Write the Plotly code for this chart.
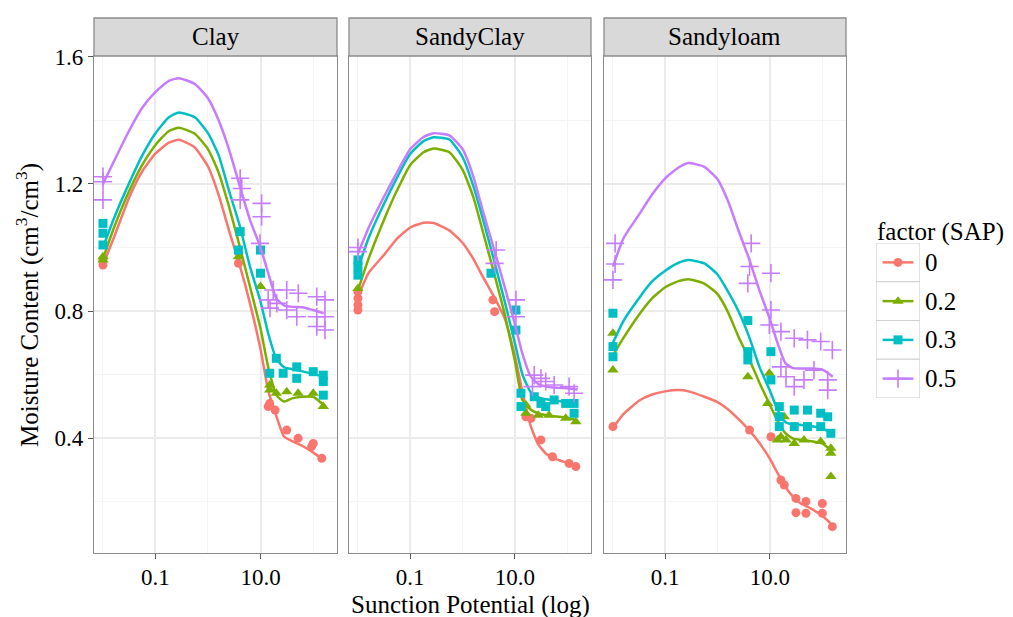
import plotly.graph_objects as go

panels = ["Clay", "SandyClay", "Sandyloam"]
levels = ["0", "0.2", "0.3", "0.5"]
colors = ["#F8766D", "#7CAE00", "#00BFC4", "#C77CFF"]
symbols = ["circle", "triangle-up", "square", "cross-thin"]

# fitted curves: suction values and moisture content
curve_x = [0.01, 0.016, 0.032, 0.056, 0.1, 0.18, 0.28, 0.56, 1.0, 1.6, 2.5, 4.0, 6.3,
           10, 14, 20, 28, 40, 63, 100, 160]

clay_fit_0 = [0.945, 1.03, 1.16, 1.24, 1.296, 1.33, 1.339, 1.315, 1.255, 1.165, 1.055, 0.945, 0.824,
              0.68, 0.55, 0.47, 0.405, 0.39, 0.375, 0.355, 0.331]
clay_fit_02 = [0.965, 1.06, 1.18, 1.26, 1.323, 1.367, 1.377, 1.358, 1.31, 1.235, 1.13, 1.005, 0.877,
               0.745, 0.624, 0.535, 0.515, 0.525, 0.53, 0.53, 0.504]
clay_fit_03 = [1.0, 1.09, 1.205, 1.29, 1.36, 1.41, 1.425, 1.41, 1.36, 1.29, 1.18, 1.07, 0.94,
               0.83, 0.73, 0.65, 0.623, 0.617, 0.61, 0.602, 0.593]
clay_fit_05 = [1.20, 1.27, 1.37, 1.44, 1.49, 1.525, 1.533, 1.515, 1.47, 1.40, 1.31, 1.195, 1.087,
               1.0, 0.92, 0.84, 0.818, 0.813, 0.812, 0.803, 0.793]

sc_fit_0 = [0.845, 0.92, 0.978, 1.028, 1.063, 1.078, 1.077, 1.054, 1.015, 0.965, 0.905, 0.845, 0.78,
            0.66, 0.545, 0.44, 0.38, 0.35, 0.333, 0.322, 0.31]
sc_fit_02 = [0.865, 0.965, 1.09, 1.18, 1.26, 1.30, 1.312, 1.30, 1.245, 1.16, 1.045, 0.92, 0.795,
             0.645, 0.52, 0.49, 0.478, 0.472, 0.468, 0.464, 0.455]
sc_fit_03 = [0.935, 1.03, 1.14, 1.22, 1.295, 1.335, 1.347, 1.34, 1.285, 1.195, 1.085, 0.96, 0.835,
             0.70, 0.60, 0.545, 0.528, 0.522, 0.517, 0.513, 0.505]
sc_fit_05 = [0.98, 1.062, 1.162, 1.237, 1.31, 1.348, 1.36, 1.353, 1.31, 1.225, 1.11, 0.995, 0.88,
             0.76, 0.665, 0.595, 0.57, 0.562, 0.558, 0.557, 0.553]

sl_fit_0 = [0.432, 0.476, 0.518, 0.537, 0.547, 0.551, 0.547, 0.53, 0.513, 0.49, 0.46, 0.425, 0.385,
            0.335, 0.29, 0.245, 0.215, 0.193, 0.177, 0.155, 0.125]
sl_fit_02 = [0.66, 0.716, 0.79, 0.84, 0.875, 0.894, 0.9, 0.886, 0.853, 0.795, 0.72, 0.65, 0.575,
             0.505, 0.455, 0.415, 0.398, 0.394, 0.39, 0.383, 0.357]
sl_fit_03 = [0.70, 0.77, 0.842, 0.893, 0.927, 0.952, 0.961, 0.95, 0.915, 0.86, 0.80, 0.72, 0.625,
             0.55, 0.49, 0.45, 0.443, 0.441, 0.437, 0.43, 0.415]
sl_fit_05 = [0.94, 1.03, 1.105, 1.167, 1.218, 1.252, 1.266, 1.254, 1.215, 1.145, 1.055, 0.965, 0.866,
             0.775, 0.70, 0.635, 0.62, 0.619, 0.619, 0.616, 0.593]

# observed points
clay_obs_0_x = [0.01, 0.01, 3.8, 14, 15, 19, 31.6, 52, 94, 101, 147]
clay_obs_0_y = [0.961, 0.945, 0.95, 0.499, 0.509, 0.488, 0.425, 0.399, 0.373, 0.383, 0.336]
clay_obs_02_x = [0.01, 0.01, 3.8, 10, 15, 15, 20, 31.6, 52, 101, 157]
clay_obs_02_y = [0.971, 0.961, 0.971, 0.877, 0.567, 0.551, 0.541, 0.546, 0.541, 0.541, 0.499]
clay_obs_03_x = [0.01, 0.01, 0.01, 4.1, 3.8, 10, 10, 20, 15, 27, 49, 49, 101, 157, 157, 157]
clay_obs_03_y = [1.076, 1.045, 1.008, 1.05, 0.992, 0.992, 0.919, 0.651, 0.604, 0.604, 0.624, 0.588,
                 0.609, 0.598, 0.578, 0.535]
clay_obs_05_x = [0.01, 0.01, 0.01, 4.1, 4.4, 4.1, 10.5, 10.5, 9.8, 17.5, 31.6, 52.5, 118, 169, 14,
                 20.4, 15.2, 31.6, 49, 118, 169, 118, 169]
clay_obs_05_y = [1.223, 1.207, 1.15, 1.218, 1.186, 1.15, 1.139, 1.097, 1.013, 0.866, 0.866, 0.856,
                 0.845, 0.835, 0.835, 0.824, 0.809, 0.803, 0.782, 0.782, 0.782, 0.751, 0.74]

sc_obs_0_x = [0.01, 0.01, 0.01, 0.01, 3.8, 4.1, 16.3, 20.4, 31.6, 52.5, 109, 147]
sc_obs_0_y = [0.861, 0.84, 0.819, 0.803, 0.835, 0.798, 0.467, 0.462, 0.394, 0.341, 0.32, 0.31]
sc_obs_02_x = [0.01, 10, 16.3, 16.3, 28, 45, 94, 147]
sc_obs_02_y = [0.871, 0.803, 0.478, 0.504, 0.472, 0.472, 0.462, 0.451]
sc_obs_03_x = [0.01, 0.01, 0.01, 3.5, 10.5, 10.5, 13.1, 13.1, 23.5, 31.6, 39, 56.5, 94, 136, 136]
sc_obs_03_y = [0.961, 0.94, 0.913, 0.919, 0.803, 0.74, 0.541, 0.499, 0.53, 0.509, 0.499, 0.52,
               0.509, 0.509, 0.478]
sc_obs_05_x = [0.01, 0.01, 4.4, 4.1, 10.5, 10.5, 21.8, 23.5, 31.6, 39, 56.5, 109, 136]
sc_obs_05_y = [1.0, 0.987, 0.992, 0.95, 0.835, 0.782, 0.562, 0.598, 0.588, 0.578, 0.567, 0.562, 0.541]

sl_obs_0_x = [0.01, 4.1, 10.5, 16.3, 18.9, 31.6, 31.6, 49, 49, 101, 101, 157]
sl_obs_0_y = [0.436, 0.425, 0.404, 0.268, 0.252, 0.21, 0.165, 0.2, 0.163, 0.194, 0.163, 0.121]
sl_obs_02_x = [0.01, 0.01, 3.8, 9.8, 9.1, 14, 16.3, 18.9, 20.4, 29.3, 45, 94, 147, 147, 147]
sl_obs_02_y = [0.73, 0.614, 0.593, 0.604, 0.509, 0.394, 0.404, 0.467, 0.394, 0.383, 0.394, 0.389,
               0.368, 0.352, 0.279]
sl_obs_03_x = [0.01, 0.01, 0.01, 3.8, 3.8, 3.8, 10.5, 10.5, 15.2, 15.2, 15.2, 29.3, 29.3, 52.5,
               52.5, 94, 94, 128, 147]
sl_obs_03_y = [0.793, 0.688, 0.656, 0.77, 0.672, 0.646, 0.672, 0.583, 0.499, 0.467, 0.436, 0.488,
               0.436, 0.488, 0.436, 0.478, 0.436, 0.467, 0.415]
sl_obs_05_x = [0.011, 0.011, 0.01, 4.4, 4.1, 3.8, 10.5, 10.5, 9.8, 16.3, 29.3, 52.5, 94, 157, 16.3,
               20.4, 29.3, 45, 70, 128, 128]
sl_obs_05_y = [1.013, 0.948, 0.898, 1.013, 0.94, 0.887, 0.919, 0.803, 0.756, 0.735, 0.714, 0.709,
               0.704, 0.677, 0.624, 0.593, 0.562, 0.583, 0.614, 0.583, 0.551]

x_tick_vals = [0.1, 10]
x_tick_text = ["0.1", "10.0"]
y_tick_vals = [0.4, 0.8, 1.2, 1.6]
y_tick_text = ["0.4", "0.8", "1.2", "1.6"]

fits = [
    [clay_fit_0, clay_fit_02, clay_fit_03, clay_fit_05],
    [sc_fit_0, sc_fit_02, sc_fit_03, sc_fit_05],
    [sl_fit_0, sl_fit_02, sl_fit_03, sl_fit_05],
]
obs = [
    [(clay_obs_0_x, clay_obs_0_y), (clay_obs_02_x, clay_obs_02_y),
     (clay_obs_03_x, clay_obs_03_y), (clay_obs_05_x, clay_obs_05_y)],
    [(sc_obs_0_x, sc_obs_0_y), (sc_obs_02_x, sc_obs_02_y),
     (sc_obs_03_x, sc_obs_03_y), (sc_obs_05_x, sc_obs_05_y)],
    [(sl_obs_0_x, sl_obs_0_y), (sl_obs_02_x, sl_obs_02_y),
     (sl_obs_03_x, sl_obs_03_y), (sl_obs_05_x, sl_obs_05_y)],
]

FONT = "Liberation Serif, Times New Roman, serif"
FS = 25
marker_sizes = [9, 10, 9, 13]

fig = go.Figure()

for p in range(3):
    xa = "x" if p == 0 else f"x{p+1}"
    ya = "y" if p == 0 else f"y{p+1}"
    for k in range(4):
        ox, oy = obs[p][k]
        mk = dict(color=colors[k], size=marker_sizes[k], symbol=symbols[k])
        if symbols[k] == "cross-thin":
            mk["line"] = dict(color=colors[k], width=1.6)
        fig.add_trace(go.Scatter(x=ox, y=oy, mode="markers", marker=mk,
                                 xaxis=xa, yaxis=ya, showlegend=False, hoverinfo="skip"))
        fig.add_trace(go.Scatter(x=curve_x, y=fits[p][k], mode="lines",
                                 line=dict(color=colors[k], width=2.5, shape="spline", smoothing=0.5),
                                 xaxis=xa, yaxis=ya, showlegend=False, hoverinfo="skip"))

# layout geometry
W, H = 1013, 617
ml, mr, mt, mb = 94, 10, 56, 64
pw = W - ml - mr
ph = H - mt - mb
def px(xp):
    return (xp - ml) / pw
def py(yp):
    return (H - mb - yp) / ph

domains = [[px(94), px(337)], [px(349), px(591)], [px(604), px(846)]]

axis_common = dict(
    showline=True, mirror=True, linecolor="#8C8C8C", linewidth=1.3,
    showgrid=True, gridcolor="#EBEBEB", gridwidth=1.5, zeroline=False,
    tickfont=dict(family=FONT, size=23, color="black"),
)

for p in range(3):
    xname = "xaxis" if p == 0 else f"xaxis{p+1}"
    yname = "yaxis" if p == 0 else f"yaxis{p+1}"
    ya = "y" if p == 0 else f"y{p+1}"
    fig.layout[xname] = dict(
        axis_common, type="log", domain=domains[p], anchor=ya,
        range=[-2.171, 2.457], tickmode="array", tickvals=x_tick_vals, ticktext=x_tick_text,
        ticks="outside", ticklen=5, tickcolor="#555555", tickwidth=1.2, ticklabelstandoff=-2,
        minor=dict(tickvals=[0.01, 1, 100], showgrid=True, gridcolor="#F4F4F4", gridwidth=0.8, ticks=""),
    )
    fig.layout[yname] = dict(
        axis_common, domain=[0, 1], anchor="x" if p == 0 else f"x{p+1}",
        range=[0.038, 1.603], tickmode="array", tickvals=y_tick_vals, ticktext=y_tick_text,
        ticks="outside" if p == 0 else "", ticklen=5, tickcolor="#555555", tickwidth=1.2,
        showticklabels=(p == 0),
        minor=dict(tickvals=[0.2, 0.6, 1.0, 1.4], showgrid=True, gridcolor="#F4F4F4", gridwidth=0.8, ticks=""),
    )
    if p > 0:
        fig.layout[yname]["matches"] = "y"

# legend area axis
fig.layout["xaxis4"] = dict(domain=[px(876), px(920)], range=[0, 1], visible=False, anchor="y4")
fig.layout["yaxis4"] = dict(domain=[py(398), py(243)], range=[0, 4], visible=False, anchor="x4")

shapes = []
annotations = []
strip_top = py(18)
for p in range(3):
    shapes.append(dict(type="rect", xref="paper", yref="paper",
                       x0=domains[p][0], x1=domains[p][1], y0=1, y1=strip_top,
                       fillcolor="#D9D9D9", line=dict(color="#8C8C8C", width=1.3), layer="above"))
    annotations.append(dict(text=panels[p], xref="paper", yref="paper",
                            x=(domains[p][0] + domains[p][1]) / 2, y=(1 + strip_top) / 2,
                            showarrow=False, xanchor="center", yanchor="middle",
                            font=dict(family=FONT, size=FS, color="black")))

for k in range(4):
    row = 3 - k
    shapes.append(dict(type="rect", xref="x4", yref="y4", x0=0, x1=1, y0=row, y1=row + 1,
                       fillcolor="white", line=dict(color="#D0D0D0", width=1.2), layer="below"))
    mk = dict(color=colors[k], size=marker_sizes[k], symbol=symbols[k])
    if symbols[k] == "cross-thin":
        mk["line"] = dict(color=colors[k], width=1.6)
    fig.add_trace(go.Scatter(x=[0.15, 0.85], y=[row + 0.5, row + 0.5], mode="lines",
                             line=dict(color=colors[k], width=2.5), xaxis="x4", yaxis="y4",
                             showlegend=False, hoverinfo="skip"))
    fig.add_trace(go.Scatter(x=[0.5], y=[row + 0.5], mode="markers", marker=mk,
                             xaxis="x4", yaxis="y4", showlegend=False, hoverinfo="skip"))
    annotations.append(dict(text=levels[k], xref="paper", yref="paper",
                            x=px(923), y=py(243 + (k + 0.5) * (398 - 243) / 4),
                            xanchor="left", yanchor="middle", showarrow=False,
                            font=dict(family=FONT, size=FS, color="black")))

annotations.append(dict(text="factor (SAP)", xref="paper", yref="paper", x=px(875), y=py(232),
                        xanchor="left", yanchor="middle", showarrow=False,
                        font=dict(family=FONT, size=FS, color="black")))
annotations.append(dict(text="Sunction Potential (log)", xref="paper", yref="paper",
                        x=px(470), y=py(605), xanchor="center", yanchor="middle", showarrow=False,
                        font=dict(family=FONT, size=FS, color="black")))
annotations.append(dict(text="Moisture Content (cm<sup>3</sup>/cm<sup>3</sup>)", xref="paper",
                        yref="paper", x=px(27), y=py(305), xanchor="center", yanchor="middle",
                        textangle=-90, showarrow=False,
                        font=dict(family=FONT, size=FS, color="black")))

fig.update_layout(
    width=W, height=H,
    margin=dict(l=ml, r=mr, t=mt, b=mb),
    plot_bgcolor="white", paper_bgcolor="white",
    shapes=shapes, annotations=annotations, showlegend=False,
)

fig.write_html("out.html", config={"displayModeBar": False},
               post_script="document.body.style.margin='0px';")
